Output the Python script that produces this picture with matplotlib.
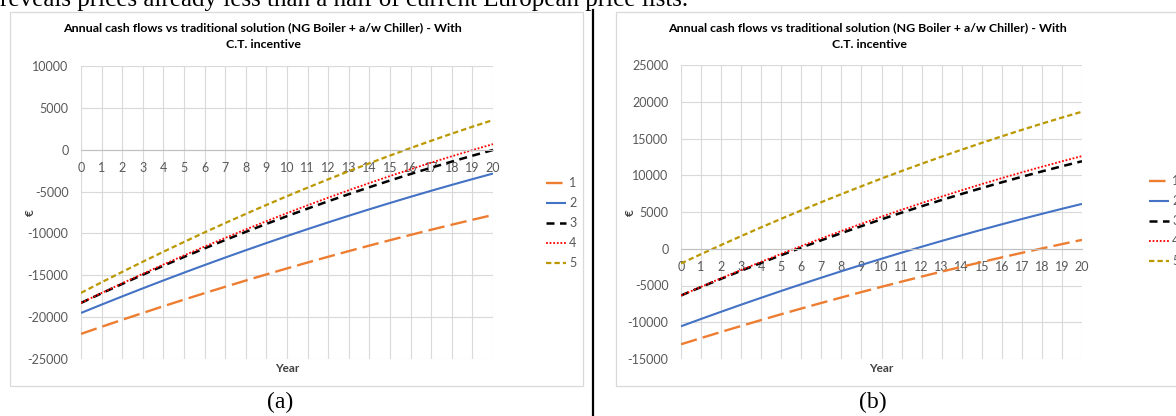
import matplotlib
matplotlib.use('Agg')
import matplotlib.pyplot as plt
from matplotlib.patches import Rectangle
from matplotlib.lines import Line2D

# ---------------- data ----------------
years = list(range(0, 21))
series_labels = ['1', '2', '3', '4', '5']

# (a) panel
a_s1 = [-22000, -21153, -20320, -19502, -18698, -17909, -17134, -16373, -15627, -14895, -14178,
        -13475, -12786, -12112, -11452, -10807, -10176, -9559, -8957, -8369, -7796]
a_s2 = [-19500, -18503, -17523, -16561, -15616, -14688, -13778, -12884, -12008, -11150, -10309,
        -9485, -8678, -7888, -7116, -6362, -5624, -4904, -4201, -3515, -2847]
a_s3 = [-18300, -17153, -16031, -14933, -13860, -12811, -11787, -10788, -9813, -8863, -7937,
        -7036, -6160, -5308, -4481, -3678, -2900, -2147, -1418, -714, -34]
a_s4 = [-18300, -17116, -15957, -14822, -13713, -12628, -11568, -10533, -9522, -8537, -7576,
        -6640, -5729, -4842, -3981, -3144, -2332, -1545, -782, -45, 668]
a_s5 = [-17100, -15835, -14594, -13378, -12187, -11020, -9877, -8759, -7666, -6597, -5552,
        -4532, -3537, -2566, -1619, -697, 200, 1073, 1922, 2746, 3545]

# (b) panel
b_s1 = [-13000, -12153, -11320, -10502, -9698, -8909, -8134, -7373, -6627, -5895, -5178,
        -4475, -3786, -3112, -2452, -1807, -1176, -559, 43, 631, 1204]
b_s2 = [-10550, -9553, -8573, -7611, -6666, -5738, -4828, -3934, -3058, -2200, -1359,
        -535, 272, 1062, 1834, 2589, 3326, 4046, 4749, 5435, 6103]
b_s3 = [-6360, -5213, -4091, -2993, -1920, -871, 153, 1152, 2127, 3077, 4003,
        4904, 5780, 6632, 7459, 8262, 9040, 9793, 10522, 11226, 11906]
b_s4 = [-6360, -5176, -4017, -2882, -1773, -688, 372, 1407, 2418, 3403, 4364,
        5300, 6211, 7098, 7959, 8796, 9608, 10395, 11158, 11895, 12608]
b_s5 = [-2000, -735, 506, 1722, 2913, 4080, 5223, 6341, 7434, 8503, 9548,
        10568, 11563, 12534, 13481, 14403, 15300, 16173, 17022, 17846, 18645]

a_yticks = [-25000, -20000, -15000, -10000, -5000, 0, 5000, 10000]
b_yticks = [-15000, -10000, -5000, 0, 5000, 10000, 15000, 20000, 25000]

title_l1 = "Annual cash flows vs traditional solution (NG Boiler + a/w Chiller) - With"
title_l2 = "C.T. incentive"
xlabel = "Year"
ylabel = "€"
top_text = "reveals prices already less than a half of current European price lists."
captions = ["(a)", "(b)"]

# ---------------- style ----------------
plt.rcParams['font.family'] = ['Lato', 'DejaVu Sans']
plt.rcParams['axes.unicode_minus'] = False
W, H = 1176, 416
fig = plt.figure(figsize=(W / 100, H / 100), dpi=100)


def fx(px):
    return px / W


def fy(py):
    return 1 - py / H


styles = [
    dict(color='#ED7D31', lw=1.7, ls=(0, (7, 2.6))),
    dict(color='#4472C4', lw=1.5, ls='-'),
    dict(color='#000000', lw=1.8, ls=(0, (3.2, 2.2))),
    dict(color='#FF0000', lw=1.3, ls=(0, (1, 1))),
    dict(color='#BB9800', lw=1.6, ls=(0, (2.4, 1.4))),
]

grid_c = '#D9D9D9'
tick_c = '#595959'
fs = 9.0


def make_panel(rect, series, yticks, title_x, leg_x, leg_y, ylab_x):
    ax = fig.add_axes(rect)
    for vals, lab, st in zip(series, series_labels, styles):
        ax.plot(years, vals, label=lab, color=st['color'], lw=st['lw'],
                linestyle=st['ls'], solid_capstyle='butt', dash_capstyle='butt')
    ax.set_xlim(0, 20)
    ax.set_ylim(yticks[0], yticks[-1])
    ax.set_xticks(years)
    ax.set_yticks(yticks)
    ax.grid(True, color=grid_c, lw=0.8)
    ax.set_axisbelow(True)
    for s in ['top', 'right', 'left']:
        ax.spines[s].set_visible(False)
    ax.spines['bottom'].set_position(('data', 0))
    ax.spines['bottom'].set_color('#BFBFBF')
    ax.spines['bottom'].set_linewidth(0.8)
    ax.tick_params(axis='both', length=0, labelsize=fs, colors=tick_c)
    ax.tick_params(axis='x', pad=9)
    ax.tick_params(axis='y', pad=9)
    pos = ax.get_position()
    fig.text((pos.x0 + pos.x1) / 2, fy(369), xlabel, ha='center', va='center',
             fontsize=8.5, fontweight='bold', color='#404040')
    fig.text(fx(ylab_x), fy(213), ylabel, ha='center', va='center', rotation=90,
             fontsize=8.5, fontweight='bold', color='#404040')
    fig.text(fx(title_x), fy(28), title_l1, ha='center', va='center',
             fontsize=8.95, fontweight='bold', color='#000000')
    fig.text(fx(title_x + 2), fy(45), title_l2, ha='center', va='center',
             fontsize=8.95, fontweight='bold', color='#000000')
    ax.legend(loc='upper left', bbox_to_anchor=(fx(leg_x), fy(leg_y)),
              bbox_transform=fig.transFigure, frameon=False, fontsize=fs,
              handlelength=1.6, handletextpad=0.25, labelspacing=0.64,
              borderpad=0, borderaxespad=0, labelcolor=tick_c)
    return ax


# chart borders
fig.add_artist(Rectangle((fx(10), fy(386)), fx(583) - fx(10), (386 - 12) / H,
                         transform=fig.transFigure, fill=False, ec=grid_c, lw=0.9))
fig.add_artist(Rectangle((fx(616), fy(386)), fx(1200) - fx(616), (386 - 12) / H,
                         transform=fig.transFigure, fill=False, ec=grid_c, lw=0.9))

make_panel([fx(81), fy(359), fx(493) - fx(81), (359 - 66) / H],
           [a_s1, a_s2, a_s3, a_s4, a_s5], a_yticks, 262, 546, 177, 30)
make_panel([fx(681), fy(359), fx(1082) - fx(681), (359 - 65) / H],
           [b_s1, b_s2, b_s3, b_s4, b_s5], b_yticks, 867, 1149, 175, 630)

# divider
fig.add_artist(Line2D([fx(593), fx(593)], [fy(10), 0], transform=fig.transFigure,
                      color='black', lw=1.6))

# surrounding document text
fig.text(0, fy(6), top_text, ha='left', va='baseline', fontsize=18,
         family='Liberation Serif', color='black')
fig.text(fx(280), fy(402), captions[0], ha='center', va='center', fontsize=17,
         family='Liberation Serif', color='black')
fig.text(fx(873), fy(402), captions[1], ha='center', va='center', fontsize=17,
         family='Liberation Serif', color='black')

fig.savefig('out.png', dpi=100, facecolor='white')
